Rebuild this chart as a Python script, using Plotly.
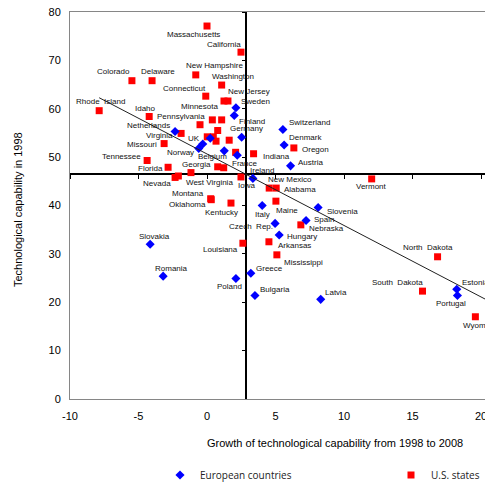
import numpy as np
import plotly.graph_objects as go

# ---------------- data ----------------
us_names = ["Massachusetts", "California", "Colorado", "Delaware", "New Hampshire", "Washington",
            "Connecticut", "Minnesota", "New Jersey", "Rhode  Island", "Idaho", "Pennsylvania",
            "", "", "", "", "", "", "",
            "Virginia", "Missouri", "Tennessee", "Florida", "", "Indiana", "Oregon",
            "Georgia", "", "West Virginia", "Nevada", "", "Iowa", "Vermont", "New Mexico",
            "Alabama", "Montana", "Oklahoma", "Kentucky", "Maine", "Nebraska", "Louisiana",
            "Arkansas", "Mississippi", "North  Dakota", "South  Dakota", "Wyoming"]
us_x = [0.0, 2.48, -5.48, -4.01, -0.82, 1.07,
        -0.09, 1.24, 1.53, -7.87, -4.22, 0.39,
        -0.51, 1.07, 0.78, 0.02, 0.46, 0.66, 1.62,
        -1.89, -3.13, -4.37, -2.84, 2.09, 3.40, 6.34,
        0.78, 1.22, -1.17, -2.33, -2.09, 2.48, 12.02, 4.54,
        5.05, 0.27, 0.31, 1.75, 5.03, 6.85, 2.62,
        4.52, 5.10, 16.83, 15.73, 19.59]
us_y = [77.1, 71.7, 65.8, 65.8, 67.0, 64.9,
        62.6, 61.6, 61.6, 59.6, 58.4, 57.7,
        56.7, 57.7, 55.5, 54.2, 54.2, 53.3, 53.5,
        54.9, 52.8, 49.3, 47.9, 51.0, 50.7, 51.9,
        48.0, 47.8, 46.8, 45.8, 46.1, 45.9, 45.5, 43.6,
        43.6, 41.4, 41.2, 40.5, 40.9, 36.0, 32.2,
        32.5, 29.8, 29.4, 22.3, 17.0]

eu_names = ["Sweden", "Finland", "Germany", "UK", "", "Norway", "Belgium", "France",
            "Netherlands", "Ireland", "Switzerland", "Denmark", "Austria", "Italy",
            "Slovenia", "Spain", "Czech  Rep.", "Hungary", "Greece", "Poland", "Bulgaria",
            "Latvia", "Slovakia", "Romania", "Estonia", "Portugal"]
eu_x = [2.11, 1.99, 2.53, 0.24, -0.31, -0.60, 1.26, 2.21,
        -2.33, 3.35, 5.54, 5.63, 6.10, 4.03,
        8.11, 7.23, 4.97, 5.27, 3.20, 2.11, 3.50,
        8.30, -4.15, -3.20, 18.23, 18.28]
eu_y = [60.2, 58.6, 54.1, 53.9, 52.7, 51.8, 51.3, 50.4,
        55.3, 45.6, 55.7, 52.5, 48.2, 40.0,
        39.6, 36.9, 36.3, 33.9, 26.0, 24.9, 21.4,
        20.6, 32.0, 25.4, 22.7, 21.4]

x_ticks = [-10, -5, 0, 5, 10, 15, 20]
y_ticks = [0, 10, 20, 30, 40, 50, 60, 70, 80]

# axes cross point (as in the reference)
CROSS_X = 2.87
CROSS_Y = 46.45

# ---------------- label offsets (pixels, label centre relative to point) ----------------
us_off = [(-13.5, 8.7), (-17.3, -8), (-18, -9), (5.5, -9), (18.6, -9.3), (11.6, -9),
          (-21.4, -7.7), (-24.5, 5), (20.8, -9.3), (1.7, -9), (-3.8, -8.4), (-31.5, -3.7),
          (0, 0), (0, 0), (0, 0), (0, 0), (0, 0), (0, 0), (0, 0),
          (-21.8, 2.4), (-22, 0.6), (-25.3, -4), (-17.2, 1.5), (0, 0), (22.6, 3.2), (22, 2),
          (-21, -2.7), (0, 0), (18.7, 9.8), (-18, 5.8), (0, 0), (6, 8.7), (0.3, 7.7), (21, -8.7),
          (23.7, 1.3), (-22.3, -5.7), (-23.5, 4.5), (-9.3, 9.3), (11.5, 9), (25.3, 4), (-22.2, 6),
          (25.2, 4), (26.3, 7.3), (-9.7, -9.3), (-24.8, -8.7), (4.5, 9)]
eu_off = [(19.5, -6), (18.2, 6.4), (5.3, -8.8), (-15.8, 0.7), (0, 0), (-18.7, 4), (-11.8, 5.7), (6.9, 8),
          (-26.3, -5.6), (9, -8.3), (26.3, -7), (21.5, -7.3), (19.5, -3.7), (0.7, 9),
          (24.2, 4.4), (17.7, -1.4), (-23.6, 3.4), (22.7, 1.7), (18.7, -4.3), (-6.7, 8), (19.7, -5.7),
          (15, -6.6), (4.7, -7.6), (8.7, -8), (18.7, -7), (-6.3, 8)]

# Page body margin is removed (post_script), so figure pixels == page pixels.
W, H = 485, 485
PLOT_LEFT, PLOT_TOP, PLOT_BOTTOM = 70, 12, 399
L, T, B, R = PLOT_LEFT, PLOT_TOP, H - PLOT_BOTTOM, 0
PW, PH = W - L - R, H - T - B
PX_PER_UNIT = 13.7
X_RANGE = [-10, -10 + PW / PX_PER_UNIT]
Y_RANGE = [0, 80]

RED = "#ff0000"
BLUE = "#0000ff"
AX_FONT = "Liberation Sans, Arial, sans-serif"
LEG_FONT = dict(family="Open Sans, sans-serif", size=10, color="#222222")


def px_x(p):
    return (p - PLOT_LEFT) / PW


def px_y(p):
    return (PLOT_BOTTOM - p) / PH


fig = go.Figure()

fig.add_trace(go.Scatter(
    x=us_x, y=us_y, mode="markers", name="U.S. states", legend="legend2",
    marker=dict(symbol="square", size=7, color=RED, line=dict(width=0)),
))
fig.add_trace(go.Scatter(
    x=eu_x, y=eu_y, mode="markers", name="European countries", legend="legend",
    marker=dict(symbol="diamond", size=7, color=BLUE, line=dict(width=0)),
))

# linear trend through all points
all_x = np.array(us_x + eu_x)
all_y = np.array(us_y + eu_y)
slope, intercept = np.polyfit(all_x, all_y, 1)
tx = np.array([all_x.min(), X_RANGE[1] + 1])
fig.add_trace(go.Scatter(
    x=tx, y=intercept + slope * tx, mode="lines", xaxis="x2", yaxis="y2",
    line=dict(color="#202020", width=1), showlegend=False, hoverinfo="skip",
))

# labels
annots = []
for names, xs, ys, offs in ((us_names, us_x, us_y, us_off), (eu_names, eu_x, eu_y, eu_off)):
    for n, x, y, (dx, dy) in zip(names, xs, ys, offs):
        if not n:
            continue
        annots.append(dict(x=x, y=y, xref="x", yref="y", text=n, showarrow=False,
                           xshift=dx, yshift=-dy, xanchor="center", yanchor="middle",
                           font=dict(family=AX_FONT, size=8, color="#111111")))

# axis titles
annots.append(dict(x=px_x(335), y=px_y(443), xref="paper", yref="paper",
                   text="Growth of technological capability from 1998 to 2008", showarrow=False,
                   xanchor="center", yanchor="middle", font=dict(family=AX_FONT, size=11, color="black")))
annots.append(dict(x=px_x(18), y=px_y(209), xref="paper", yref="paper",
                   text="Technological capability in 1998", showarrow=False, textangle=-90,
                   xanchor="center", yanchor="middle", font=dict(family=AX_FONT, size=11, color="black")))

fig.update_layout(
    width=W, height=H,
    margin=dict(l=L, r=R, t=T, b=B, pad=0, autoexpand=False),
    paper_bgcolor="white", plot_bgcolor="white",
    showlegend=True,
    legend=dict(orientation="h", x=px_x(160), xanchor="left", y=px_y(475), yanchor="middle",
                font=LEG_FONT, bgcolor="rgba(0,0,0,0)", itemsizing="trace"),
    legend2=dict(orientation="h", x=px_x(391), xanchor="left", y=px_y(475), yanchor="middle",
                 font=LEG_FONT, bgcolor="rgba(0,0,0,0)", itemsizing="trace"),
    annotations=annots,
    xaxis=dict(range=X_RANGE, tickvals=x_ticks, ticktext=[str(v) for v in x_ticks],
               showgrid=False, zeroline=False, showline=True, linecolor="#868686", linewidth=1,
               mirror=True, ticks="", ticklabelstandoff=7, automargin=False,
               ticklabeloverflow="allow",
               tickfont=dict(family=AX_FONT, size=11, color="black")),
    yaxis=dict(range=Y_RANGE, tickvals=y_ticks, ticktext=[str(v) for v in y_ticks],
               showgrid=False, zeroline=False, showline=True, linecolor="#868686", linewidth=1,
               ticks="", ticklabelstandoff=6, automargin=False,
               ticklabeloverflow="allow",
               tickfont=dict(family=AX_FONT, size=11, color="black")),
    xaxis2=dict(overlaying="x", matches="x", anchor="free",
                position=(CROSS_Y - Y_RANGE[0]) / (Y_RANGE[1] - Y_RANGE[0]),
                side="bottom", showline=True, linecolor="black", linewidth=1.5,
                ticks="outside", ticklen=4, tickwidth=1, tickcolor="black",
                tickvals=x_ticks, showticklabels=False, showgrid=False, zeroline=False,
                layer="below traces"),
    yaxis2=dict(overlaying="y", matches="y", anchor="free",
                position=(CROSS_X - X_RANGE[0]) / (X_RANGE[1] - X_RANGE[0]),
                side="left", showline=True, linecolor="black", linewidth=1.5,
                ticks="outside", ticklen=4, tickwidth=1, tickcolor="black",
                tickvals=y_ticks, showticklabels=False, showgrid=False, zeroline=False,
                layer="below traces"),
)

fig.write_html("out.html", config={"displayModeBar": False},
               post_script="document.body.style.margin='0px';")
